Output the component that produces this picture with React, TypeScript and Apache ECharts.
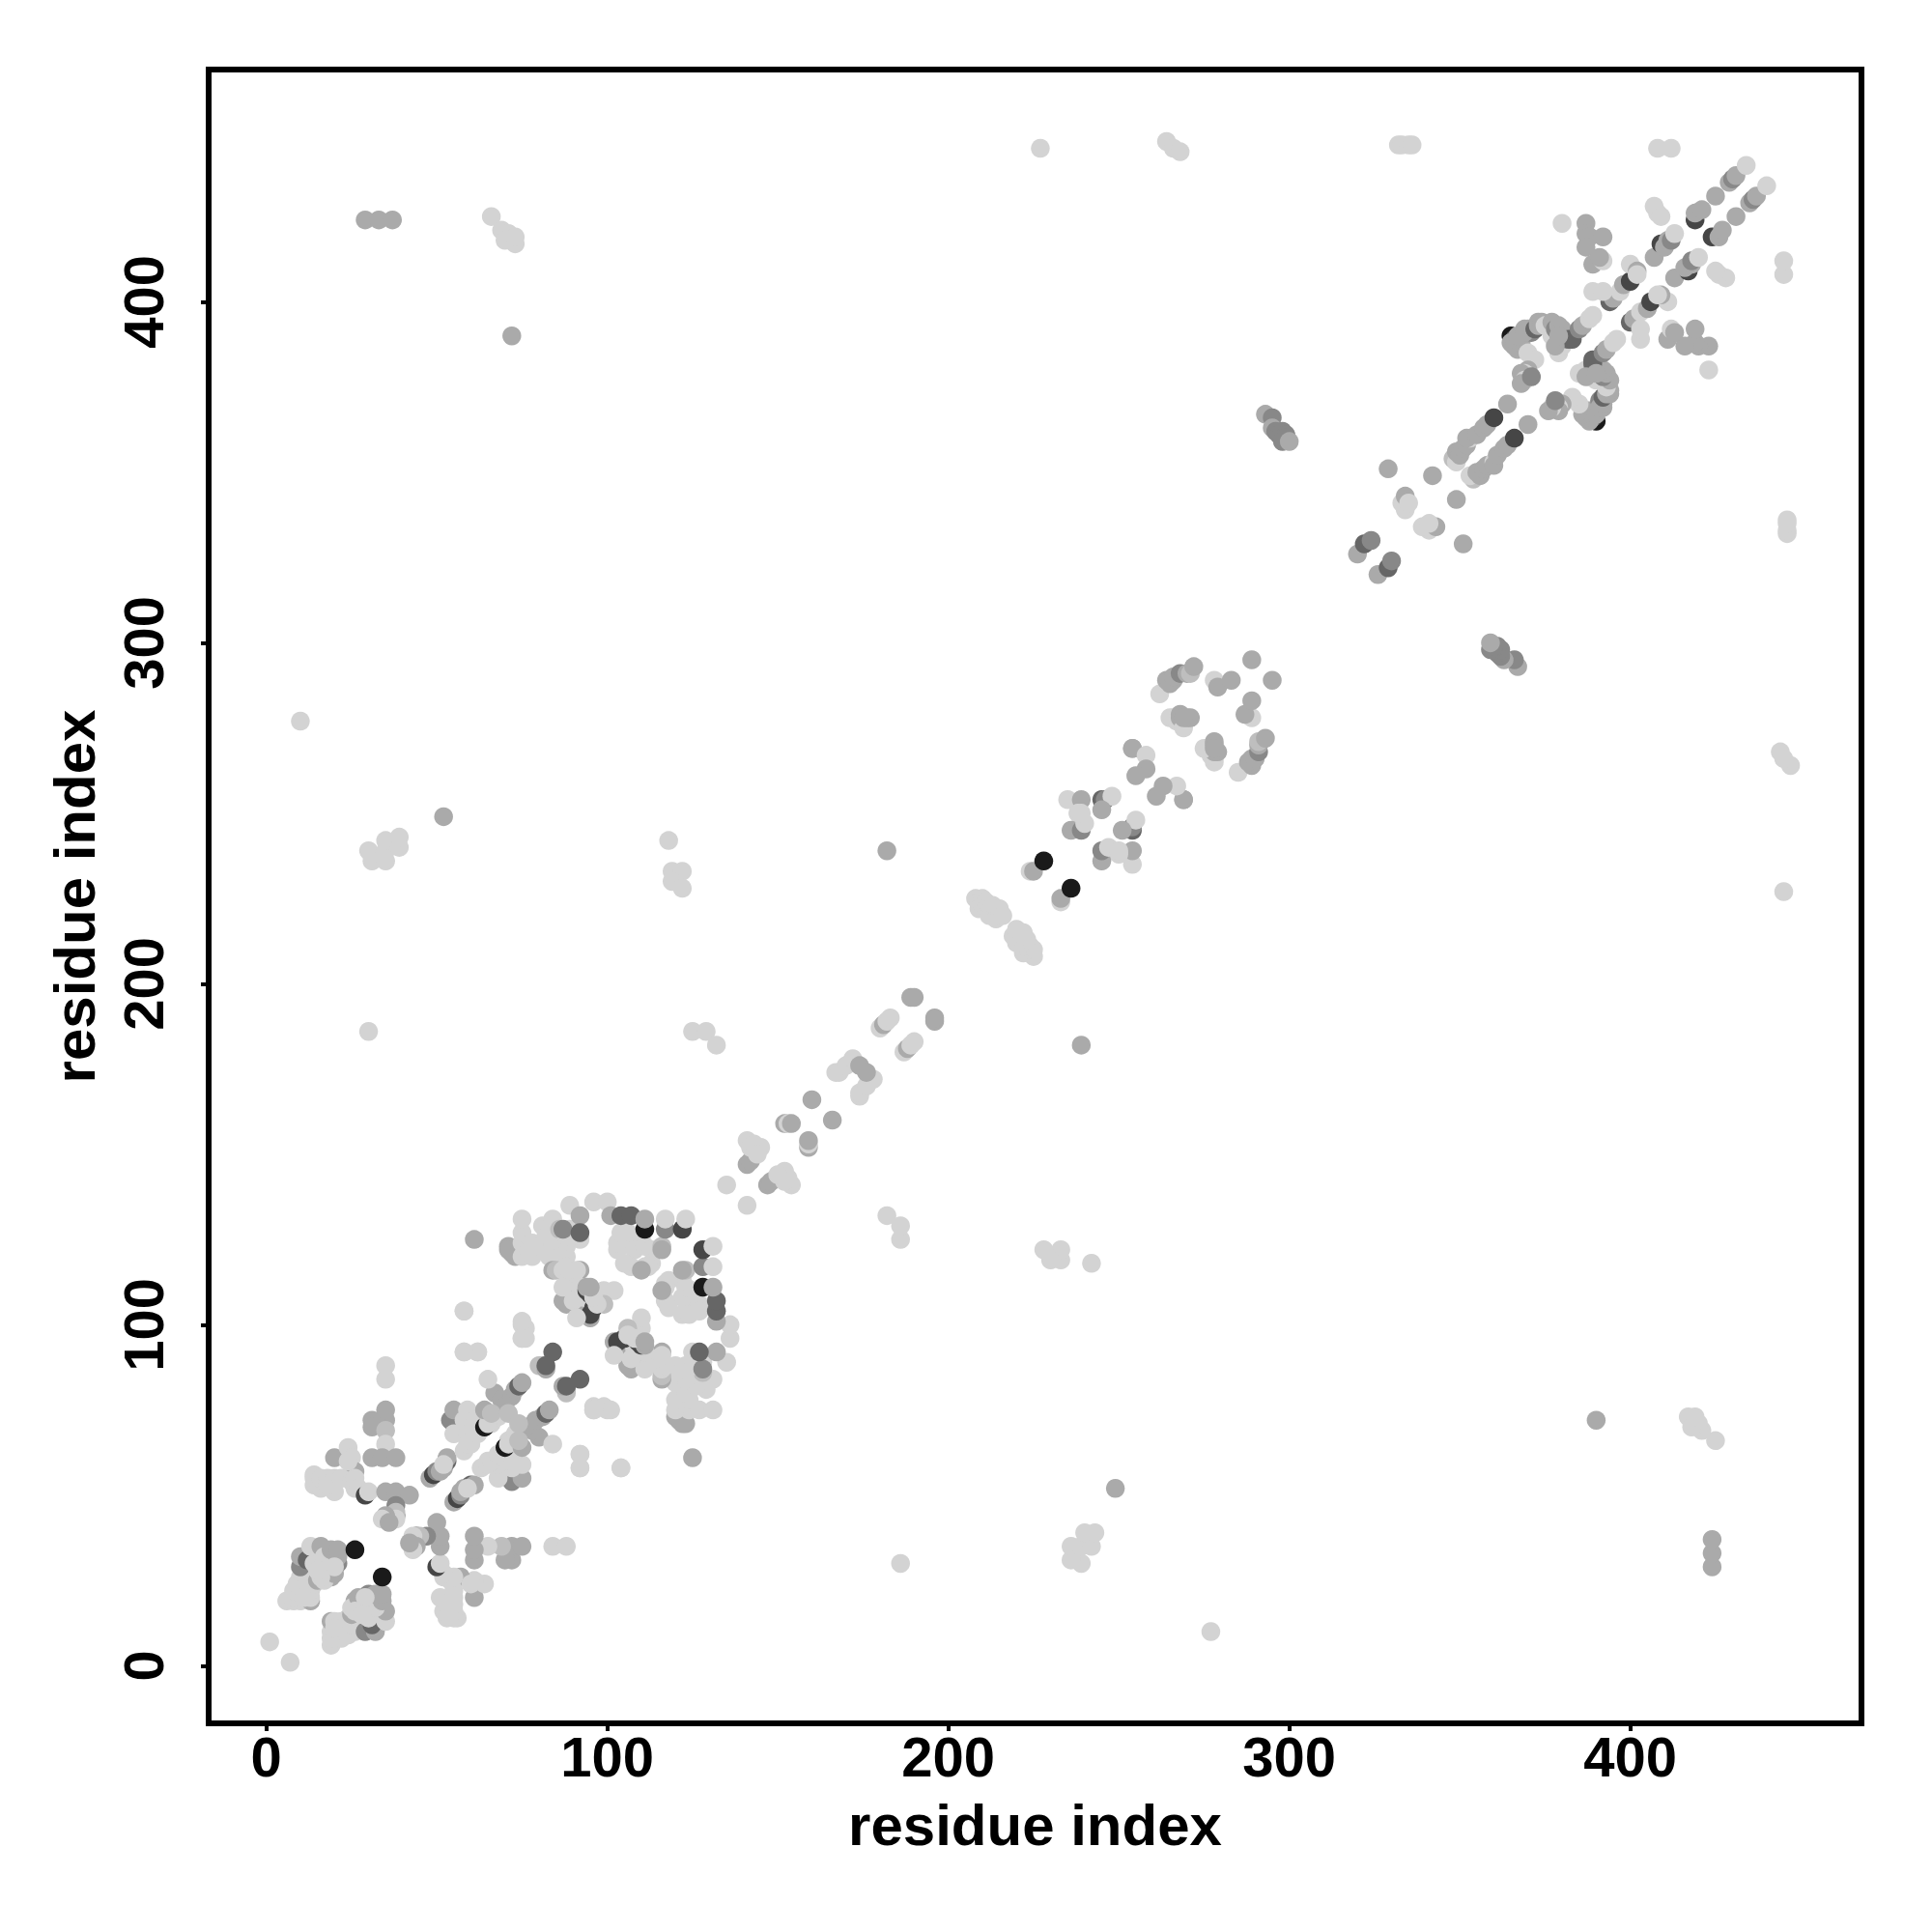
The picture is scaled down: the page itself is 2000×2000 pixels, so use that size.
import React, { useEffect, useRef } from "react";
import * as echarts from "echarts";

// Each contact is [residue i, residue j, grey level]; the map is symmetric, so (j, i) is drawn too.
const L = 211, K = 190, M = 170, N = 136, D = 102, E = 70, B = 26;

const distantContacts = [
  [10,277,L],[30,186,L],[52,249,M],[30,239,L],[31,236,L],[35,236,L],[35,239,L],[35,242,L],[39,240,L],[39,243,L],
  [29,424,M],[33,424,M],[37,424,M],[66,425,L],[69,421,L],[71,420,L],[72,418,L],[73,417,L],[70,418,L],[73,419,L],[72,390,M],
  [118,242,L],[119,233,L],[122,233,L],[119,230,L],[122,228,L],[182,239,M],[125,186,L],[129,186,L],[132,182,L],
  [227,445,L],[264,447,L],[266,445,L],[268,444,L],[332,446,L],[333,446,L],[335,446,L],[336,446,L],[408,445,L],[412,445,L],
  [293,367,M],[295,366,N],[295,363,M],[296,362,N],[297,361,N],[298,362,N],[298,360,N],[299,361,N],[298,359,N],[299,360,N],[300,359,M],
];

const firstDomain = [
  [1,7,L],[6,19,L],[8,19,L],[10,19,L],[13,19,M],[13,20,L],[10,22,L],[10,24,L],[13,22,L],[10,26,L],[8,20,L],[8,22,L],[9,24,L],[11,20,L],[14,24,L],[12,25,L],
  [10,29,N],[10,32,M],[12,31,D],[15,33,E],[18,31,E],[15,25,M],[19,26,M],[17,25,L],[20,27,M],[14,30,L],[16,31,L],[13,35,L],[16,35,M],[17,32,L],[19,30,L],
  [21,30,N],[21,32,M],[19,34,M],[21,34,M],[20,29,L],[16,26,L],[15,28,L],[26,34,B],
  [31,72,M],[35,72,M],[35,75,M],[31,70,M],[35,69,K],[35,65,L],[35,84,L],[35,88,L],[20,61,M],[24,64,L],[14,56,L],[14,53,L],[16,52,L],[20,51,L],[25,61,L],[26,57,M],[26,52,L],
  [14,55,L],[16,55,L],[18,55,L],[18,53,L],[20,55,L],[22,55,L],[24,60,L],[25,54,L],[26,55,L],[27,52,L],
  [31,61,M],[34,61,M],[38,61,M],[29,50,E],[30,51,L],[35,51,M],[38,51,M],[42,50,M],[38,47,N],[38,44,D],[38,45,K],[38,43,L],[35,44,M],[34,43,L],[36,42,M],
  [48,55,M],[49,56,E],[50,57,N],[51,57,M],[52,58,M],[53,60,D],[53,61,M],[52,59,L],
  [54,72,N],[55,75,M],[59,75,L],[58,72,L],[60,70,L],[62,73,L],[55,68,L],[59,68,L],[58,63,L],[60,65,L],[59,65,L],[60,66,L],[62,68,L],[66,72,L],[68,73,L],[66,71,L],[64,70,B],[65,71,L],
  [67,80,M],[69,78,M],[70,76,M],[72,79,M],[73,81,M],[74,82,D],[75,83,M],[65,84,L],[64,75,M],[66,74,K],[71,74,K],
  [58,92,L],[62,92,L],[58,104,L],[75,100,L],[76,96,L],[76,99,L],[92,62,L],[92,58,L],[104,58,L],[81,88,M],[80,88,K],[84,92,D],[87,82,M],[82,88,D],[75,96,L],[75,101,L],[96,75,L],
];

const secondDomain = [
  [61,125,M],[71,123,M],[72,121,M],[71,122,M],[73,120,M],[75,120,L],[75,124,L],[75,127,L],[75,131,L],[77,122,L],[78,124,L],[78,120,L],[80,123,L],[81,129,L],[84,131,L],[82,126,L],[83,120,L],[84,123,L],
  [86,128,K],[89,135,L],[92,125,L],[88,123,L],[88,120,L],[90,127,L],[85,118,L],[86,120,L],[88,126,L],[89,128,L],[87,128,N],[92,132,M],[92,127,D],[84,116,M],[85,116,K],[87,116,L],[88,117,L],[92,116,M],[90,114,L],[91,116,L],
  [90,109,N],[88,106,M],[93,103,M],[95,102,M],[87,107,M],[87,111,L],[92,109,L],[92,111,L],[93,108,L],[90,107,L],[94,110,E],[96,105,E],[95,103,E],[95,109,E],[94,111,M],[99,110,L],[102,110,L],[99,106,K],[91,102,L],[97,106,L],[96,108,L],[95,111,M],
  [96,136,L],[100,136,L],[105,125,L],[103,122,L],[106,127,L],[110,125,L],[108,122,L],[111,123,L],[113,122,L],[107,117,L],[111,117,L],[113,118,L],[112,117,L],[105,118,L],[103,124,L],[104,127,L],
  [110,116,M],[116,123,K],[116,122,M],[101,132,M],[104,132,D],[107,132,D],[111,128,B],[111,131,M],[117,128,N],[117,131,L],[122,128,E],[123,131,L],
  [135,141,L],
];

const bridgeContacts = [
  [141,147,M],[142,148,M],[141,154,L],[142,152,L],[143,153,L],[145,152,L],[144,150,L],[152,159,M],[153,159,L],[154,159,M],[160,166,M],
  [167,174,L],[168,174,L],[170,176,L],[172,178,L],[174,176,M],[180,187,L],[181,188,M],[182,189,L],[183,190,L],[189,196,M],[190,196,M],
  [208,225,L],[209,224,L],[209,222,L],[210,225,L],[210,223,L],[211,224,L],[211,222,L],[212,222,L],[212,220,L],[213,221,L],[213,223,L],[214,221,L],[214,219,L],[215,220,L],[215,222,L],[216,220,L],
  [224,233,L],[225,233,M],[228,236,B],
];

const thirdDomain = [
  [235,254,L],[239,254,M],[245,254,D],[246,254,N],[248,255,L],[245,251,M],[238,250,L],[239,248,L],[236,245,M],[239,245,N],[240,247,L],[239,250,L],
  [254,269,M],[254,269,M],[258,267,L],[258,263,M],[255,261,M],[262,285,L],[264,289,M],[266,289,M],[265,288,M],[266,290,M],[268,291,N],[270,291,M],[271,291,K],[272,293,M],
  [278,289,L],[279,287,M],[283,289,M],[289,295,M],[265,278,L],[266,278,L],[267,277,L],[268,278,M],[269,275,L],[270,278,M],[271,278,M],[268,279,M],[269,278,M],
];

const fourthDomain = [
  [320,326,M],[322,329,D],[324,330,N],[329,351,M],[333,341,L],[334,339,L],[334,343,M],[335,341,L],[342,349,M],
  [348,354,K],[349,353,L],[349,356,M],[350,355,M],[351,357,M],[352,358,M],[353,360,L],[352,360,M],[355,361,M],[357,363,M],[358,364,M],[360,366,E],[364,370,M],
  [365,390,B],[366,389,D],[365,388,M],[366,387,M],[367,386,M],[368,387,M],[369,392,M],[368,388,M],[370,391,M],[371,391,N],[370,385,L],[372,383,L],[370,380,M],[369,379,L],[368,379,M],[369,377,L],[368,376,M],[371,378,N],
  [367,390,M],[369,391,M],[370,392,M],[372,392,D],[373,393,M],
  [373,394,M],[374,394,M],[375,393,L],[377,394,M],[377,390,L],[378,388,L],[379,385,L],[380,387,L],[378,392,N],[379,393,M],[380,392,M],[381,389,M],[382,389,D],[383,389,D],[385,392,N],[386,393,M],[388,395,L],[389,396,L],[378,387,M],[379,390,M],
  [394,400,D],[395,401,M],[397,403,L],[398,405,M],[400,406,E],[400,411,L],[402,409,M],[402,408,L],[407,413,M],
  [409,417,E],[410,416,M],[411,418,M],[412,418,N],[413,420,L],[419,424,E],[419,426,M],[421,427,M],[425,431,M],[429,435,M],[430,436,N],[431,437,M],[434,440,L],
  [380,423,L],[387,423,M],[387,420,M],[388,419,M],[392,419,M],[387,416,M],[389,411,M],[392,412,L],[391,413,M],[389,403,L],[392,403,L],[407,428,L],[408,426,L],[409,425,L],
];

const allContacts = [...distantContacts, ...firstDomain, ...secondDomain, ...bridgeContacts, ...thirdDomain, ...fourthDomain];
const tickValues = [0, 100, 200, 300, 400];
const axisTitle = "residue index";

const grey = (g: number) => `rgb(${g},${g},${g})`;
const fontFamily = '"Liberation Sans", Arial, sans-serif';

export default function App() {
  const ref = useRef<HTMLDivElement>(null);
  useEffect(() => {
    const chart = echarts.init(ref.current!, null, { renderer: "svg" });
    const points = allContacts.flatMap(([i, j, g]) => [
      { value: [i, j], itemStyle: { color: grey(g), opacity: 1 } },
      { value: [j, i], itemStyle: { color: grey(g), opacity: 1 } },
    ]);
    const axis = (extra: any) => ({
      type: "value",
      splitLine: { show: false },
      axisLine: { show: false, onZero: false },
      name: axisTitle,
      nameLocation: "middle",
      nameMoveOverlap: false,
      nameTextStyle: { color: "#000", fontFamily, fontWeight: "bold", fontSize: 60 },
      axisTick: { show: true, length: 8, inside: false, customValues: tickValues, lineStyle: { color: "#000", width: 4 } },
      ...extra,
    });
    chart.setOption({
      animation: false,
      backgroundColor: "#ffffff",
      grid: { left: 216, top: 72, width: 1711, height: 1712, show: true, borderColor: "#000", borderWidth: 6, backgroundColor: "transparent" },
      xAxis: axis({
        min: -16.9, max: 467.8, nameGap: 75,
        axisLabel: { customValues: tickValues, color: "#000", fontFamily, fontWeight: "bold", fontSize: 58, margin: 5, hideOverlap: false },
      }),
      yAxis: axis({
        min: -16.9, max: 468.1, nameGap: 109,
        axisLabel: { customValues: tickValues, rotate: 90, color: "#000", fontFamily, fontWeight: "bold", fontSize: 58, margin: 68, hideOverlap: false, align: "center", verticalAlign: "middle" },
      }),
      series: [{ type: "scatter", symbol: "circle", symbolSize: 19.5, data: points, silent: true, large: false }],
    });
    return () => chart.dispose();
  }, []);
  return <div ref={ref} style={{ position: "absolute", left: 0, top: 0, width: 2000, height: 2000 }} />;
}
